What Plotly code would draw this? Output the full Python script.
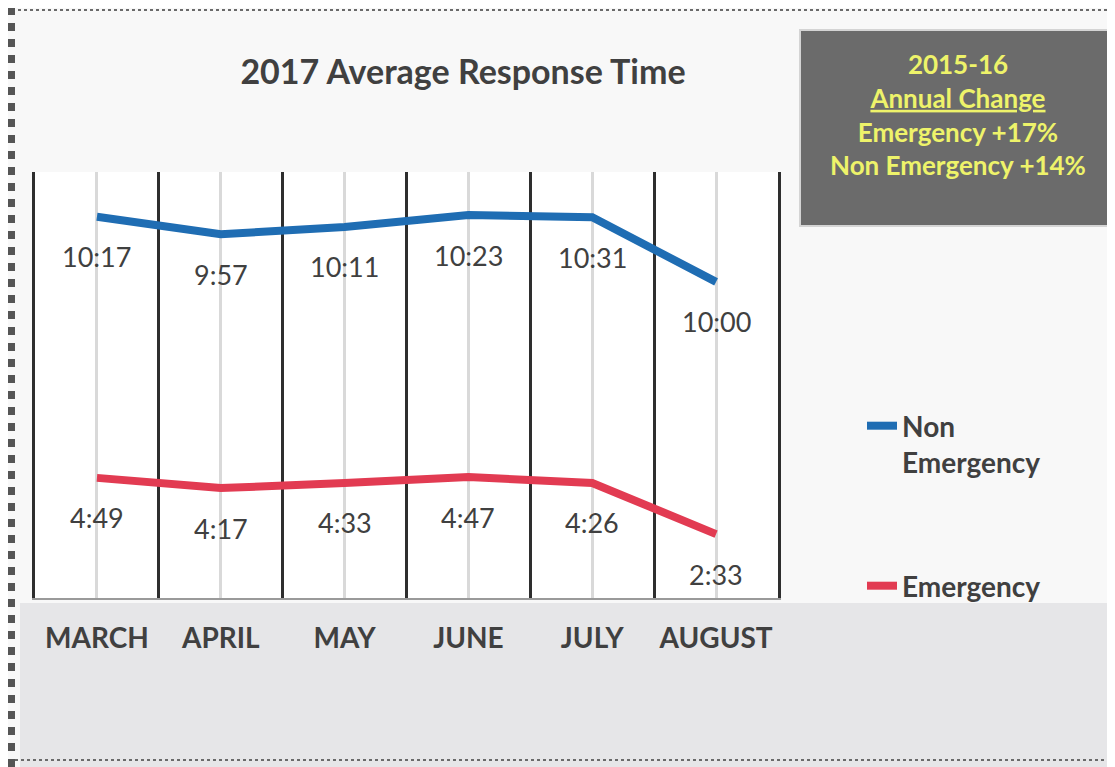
import plotly.graph_objects as go

# ---- data ----
months = ["MARCH", "APRIL", "MAY", "JUNE", "JULY", "AUGUST"]
# plotted line heights (hidden axis, 0-100 scale as drawn in the source chart)
non_emergency_level = [89.5, 85.4, 87.1, 89.9, 89.4, 74.2]
emergency_level = [28.2, 25.8, 27.0, 28.4, 27.0, 15.0]
# data labels printed on the chart (min:sec)
non_emergency_labels = ["10:17", "9:57", "10:11", "10:23", "10:31", "10:00"]
emergency_labels = ["4:49", "4:17", "4:33", "4:47", "4:26", "2:33"]
box_lines = ["2015-16", "<u>Annual Change</u>", "Emergency +17%", "Non Emergency +14%"]

# page body has an 8px margin, so the figure is drawn 8px smaller and offset
OFF = 8
W, H = 1115 - OFF, 767 - OFF
ML, MR, MT, MB = 35 - OFF, 337, 172 - OFF, 169
PW, PH = W - ML - MR, H - MT - MB


def px_x(p):  # reference-image pixel -> paper fraction
    return (p - OFF - ML) / PW


def px_y(p):
    return (H - MB - (p - OFF)) / PH


TXT = "#404040"
FONT = "Lato"

x = list(range(len(months)))

fig = go.Figure()
fig.add_trace(go.Scatter(
    x=x, y=non_emergency_level, mode="lines", name="<b>Non<br>Emergency</b>",
    line=dict(color="#1f6db3", width=8), legend="legend", hoverinfo="skip"))
fig.add_trace(go.Scatter(
    x=x, y=emergency_level, mode="lines", name="<b>Emergency</b>",
    line=dict(color="#e23b52", width=8), legend="legend2", hoverinfo="skip"))

annotations = []
for xi, yi, t in zip(x, non_emergency_level, non_emergency_labels):
    annotations.append(dict(x=xi, y=yi, xref="x", yref="y", text=t, showarrow=False,
                            yshift=-40, font=dict(family=FONT, size=27, color=TXT)))
for xi, yi, t in zip(x, emergency_level, emergency_labels):
    annotations.append(dict(x=xi, y=yi, xref="x", yref="y", text=t, showarrow=False,
                            yshift=-40, font=dict(family=FONT, size=27, color=TXT)))

annotations.append(dict(
    x=px_x(958), y=px_y(115), xref="paper", yref="paper", xanchor="center", yanchor="middle",
    text="<b>" + "<br>".join(box_lines) + "</b>", showarrow=False, align="center",
    font=dict(family=FONT, size=26, color="#eef36a")))

shapes = [
    dict(type="rect", xref="paper", yref="paper", x0=px_x(20), x1=px_x(1115),
         y0=px_y(767), y1=px_y(603), fillcolor="#e6e6e8", line=dict(width=0), layer="below"),
    dict(type="rect", xref="paper", yref="paper", x0=px_x(800), x1=px_x(1110),
         y0=px_y(226), y1=px_y(30), fillcolor="#6b6b6b",
         line=dict(color="#d4d4d4", width=2), layer="below"),
    dict(type="rect", xref="paper", yref="paper", x0=px_x(3), x1=px_x(1113),
         y0=px_y(760), y1=px_y(10), fillcolor="rgba(0,0,0,0)",
         line=dict(color="#6a6a6a", width=2, dash="dot"), layer="above"),
    dict(type="line", xref="paper", yref="paper", x0=px_x(11), x1=px_x(11),
         y0=px_y(767), y1=px_y(0), line=dict(color="#555555", width=8, dash="dot"), layer="above"),
]

fig.update_layout(
    width=W, height=H, autosize=False,
    margin=dict(l=ML, r=MR, t=MT, b=MB, autoexpand=False),
    paper_bgcolor="#f8f8f8", plot_bgcolor="#ffffff",
    title=dict(text="<b>2017 Average Response Time</b>", x=px_x(463), xref="paper",
               xanchor="center", y=1 - (72 - OFF) / H, yref="container", yanchor="middle",
               font=dict(family=FONT, size=34, color=TXT)),
    xaxis=dict(range=[-0.5, 5.5], tickmode="array", tickvals=x,
               ticktext=["<b>%s</b>" % m for m in months],
               showgrid=True, gridcolor="#d9d9d9", gridwidth=3,
               minor=dict(tickmode="linear", tick0=-0.5, dtick=1, showgrid=True,
                          gridcolor="#2e2e2e", gridwidth=3),
               showline=True, linecolor="#9a9a9a", linewidth=2, zeroline=False,
               ticks="", ticklabelstandoff=14,
               tickfont=dict(family=FONT, size=28, color=TXT), fixedrange=True),
    yaxis=dict(range=[0, 100], showticklabels=False, showgrid=False, zeroline=False,
               showline=True, linecolor="#2e2e2e", linewidth=3, mirror=True, ticks="",
               fixedrange=True),
    legend=dict(x=px_x(862), y=px_y(401), xanchor="left", yanchor="top", valign="top",
                bgcolor="rgba(0,0,0,0)", font=dict(family=FONT, size=28, color=TXT),
                itemwidth=30),
    legend2=dict(x=px_x(862), y=px_y(561), xanchor="left", yanchor="top", valign="top",
                 bgcolor="rgba(0,0,0,0)", font=dict(family=FONT, size=28, color=TXT),
                 itemwidth=30),
    annotations=annotations,
    shapes=shapes,
    showlegend=True,
)

fig.write_html("out.html")
